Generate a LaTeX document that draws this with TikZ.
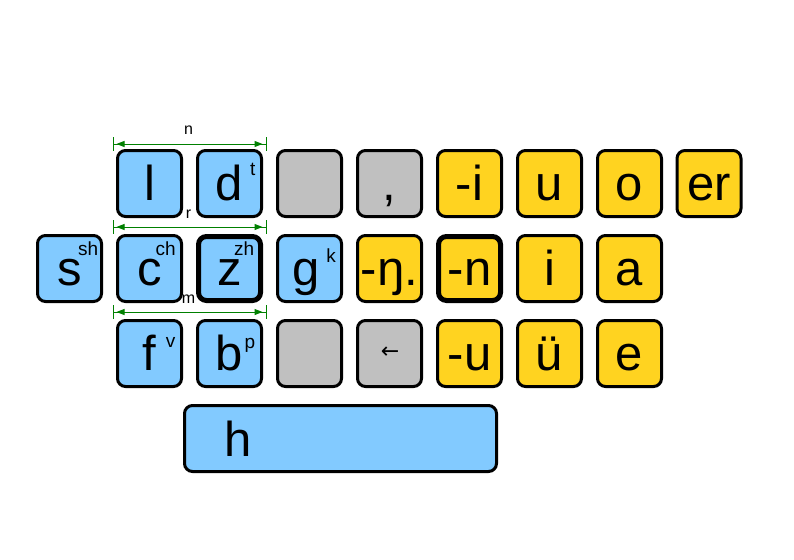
\documentclass[tikz,border=0pt]{standalone}
\usepackage{fontspec}
\setmainfont{Liberation Sans}
\newfontfamily\arrowfont{DejaVu Sans}
\usetikzlibrary{arrows.meta}
\definecolor{keyblue}{RGB}{130,202,255}
\definecolor{keyyellow}{RGB}{255,211,32}
\definecolor{keygray}{RGB}{192,192,192}
\definecolor{dimgreen}{RGB}{0,128,0}
\begin{document}
\begin{tikzpicture}[x=1pt,y=-1pt,
  keybox/.style={draw=black, line width=3pt, rounded corners=8pt,
    minimum width=64pt, minimum height=66pt, inner sep=0pt,
    font=\fontsize{49}{49}\selectfont, text height=34pt, text depth=0pt},
  homekey/.style={keybox, line width=5pt, minimum width=62pt, minimum height=64pt},
  bk/.style={fill=keyblue}, yk/.style={fill=keyyellow}, gk/.style={fill=keygray},
  supl/.style={inner sep=0pt, anchor=base east, font=\fontsize{19}{19}\selectfont},
  dimline/.style={draw=dimgreen, line width=1pt},
  dimarrow/.style={draw=dimgreen, line width=1pt,
    {Triangle[length=8pt,width=6pt]}-{Triangle[length=8pt,width=6pt]},
    shorten <=3.5pt, shorten >=3.5pt},
  dimlabel/.style={inner sep=0pt, anchor=base, font=\fontsize{16}{16}\selectfont}]
\useasboundingbox (0,0) rectangle (794,559);
\fill[white] (0,0) rectangle (794,559);
% dimension lines
\coordinate (nL) at (113,144); \coordinate (nR) at (266,144);
\coordinate (rL) at (113,227); \coordinate (rR) at (266,227);
\coordinate (mL) at (113,312); \coordinate (mR) at (266,312);
\foreach \a/\b in {nL/nR, rL/rR, mL/mR}{
  \draw[dimline] (\a) -- (\b);
  \draw[dimarrow] (\a) -- (\b);
  \draw[dimline] ([yshift=7pt]\a) -- ([yshift=-7pt]\a);
  \draw[dimline] ([yshift=7pt]\b) -- ([yshift=-7pt]\b);
}
\node[dimlabel] (nlab) at (188.5,135) {n};
\node[dimlabel] (rlab) at (188.5,218) {r};
\node[dimlabel] (mlab) at (188.5,303) {m};
% row 1
\node[keybox,bk] (l) at (149.5,183.5) {l};
\node[keybox,bk] (d) at (229.5,183.5) {d};
\node[keybox,gk] (g1) at (309.5,183.5) {};
\node[keybox,gk] (comma) at (389.5,183.5) {,};
\node[keybox,yk] (mi) at (469.5,183.5) {-i};
\node[keybox,yk] (u) at (549.5,183.5) {u};
\node[keybox,yk] (o) at (629.5,183.5) {o};
\node[keybox,yk] (er) at (709,183.5) {er};
% row 2
\node[keybox,bk] (s) at (69.5,268.5) {s};
\node[keybox,bk] (c) at (149.5,268.5) {c};
\node[homekey,bk] (z) at (229.5,268.5) {z};
\node[keybox,bk] (g) at (309.5,268.5) {\hspace*{-6pt}g};
\node[keybox,yk] (ng) at (389.5,268.5) {-ŋ.};
\node[homekey,yk] (mn) at (469.5,268.5) {-n};
\node[keybox,yk] (i) at (549.5,268.5) {i};
\node[keybox,yk] (a) at (629.5,268.5) {a};
% row 3
\node[keybox,bk] (f) at (149.5,353.5) {f};
\node[keybox,bk] (b) at (229.5,353.5) {b};
\node[keybox,gk] (g3) at (309.5,353.5) {};
\node[keybox,gk] (bs) at (389.5,353.5) {};
\node[keybox,yk] (mu) at (469.5,353.5) {-u};
\node[keybox,yk] (uu) at (549.5,353.5) {ü};
\node[keybox,yk] (e) at (629.5,353.5) {e};
% space bar
\node[keybox,bk,minimum width=312pt] (space) at (340.5,438.5) {};
\node[inner sep=0pt, anchor=base, font=\fontsize{49}{49}\selectfont] (h) at (238.5,456) {h};
% backspace arrow
\node[inner sep=0pt, font=\arrowfont\fontsize{22}{22}\selectfont] (arrow) at (390,352.5) {←};
% superscripts
\node[supl] (dsup) at ([xshift=26pt,yshift=8.5pt]d.center) {t};
\node[supl] (ssup) at ([xshift=29pt,yshift=13pt]s.center) {sh};
\node[supl] (csup) at ([xshift=26.5pt,yshift=13.5pt]c.center) {ch};
\node[supl] (zsup) at ([xshift=25pt,yshift=13pt]z.center) {zh};
\node[supl] (gsup) at ([xshift=26.5pt,yshift=6.5pt]g.center) {k};
\node[supl] (fsup) at ([xshift=26pt,yshift=6.5pt]f.center) {v};
\node[supl] (bsup) at ([xshift=26pt,yshift=5pt]b.center) {p};
\end{tikzpicture}
\end{document}
